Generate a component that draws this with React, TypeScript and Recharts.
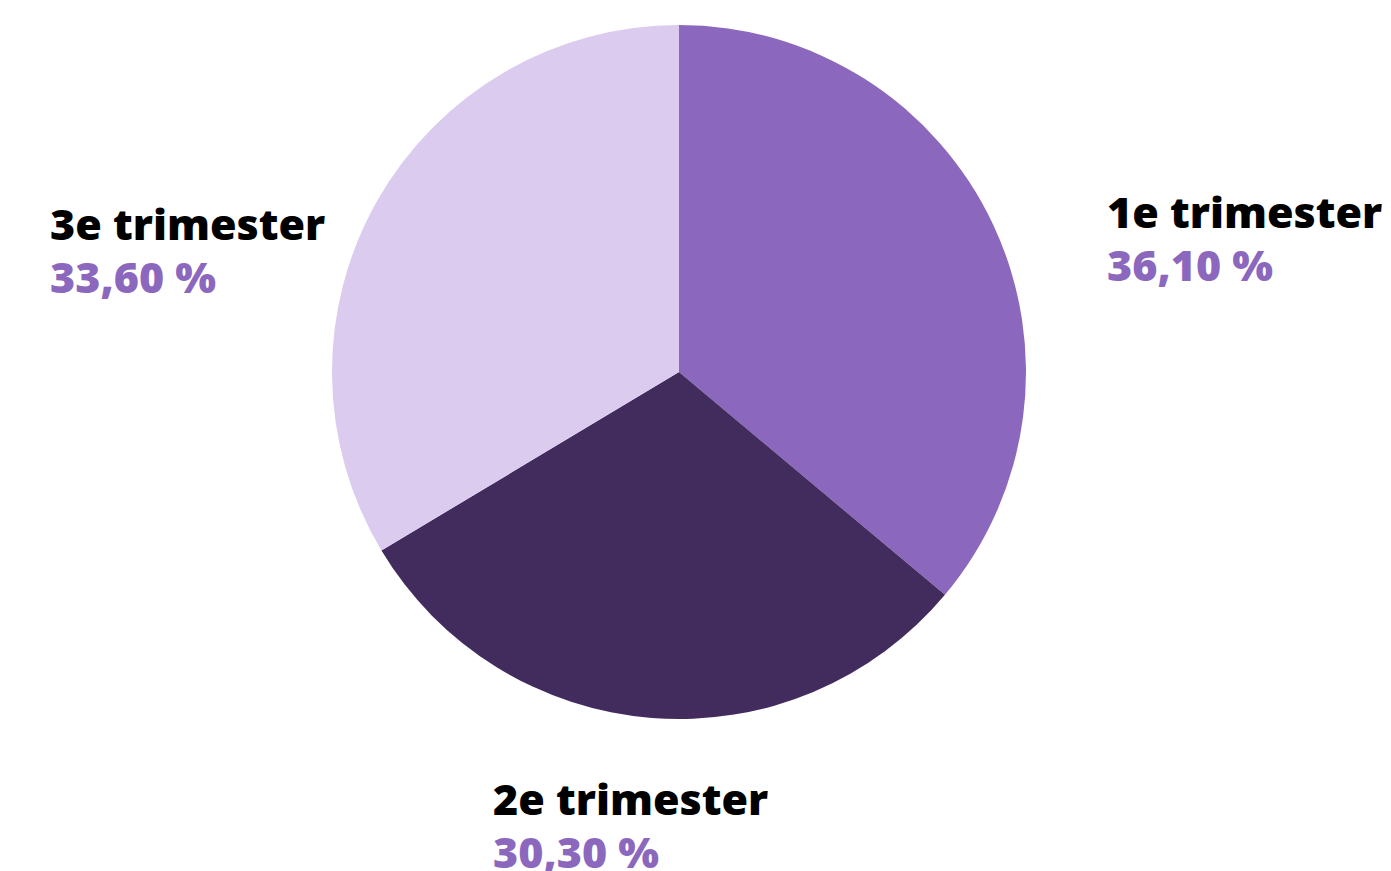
import { PieChart, Pie, Cell } from "recharts";

const categories = ["1e trimester", "2e trimester", "3e trimester"];
const shares = [36.1, 30.3, 33.6];
const colors = ["#8b68be", "#412c5d", "#dbcbee"];

const data = categories.map((name, i) => ({ name, value: shares[i] }));

// label placement relative to pie centre (left edge, first baseline)
const labelOffset: Record<string, [number, number]> = {
    "1e trimester": [428, -144],
    "2e trimester": [-186, 443],
    "3e trimester": [-629, -132],
};

const fmt = (v: number) => v.toFixed(2).replace(".", ",") + " %";

const textStyle = { fontSize: 43, fontWeight: 800, fontFamily: "'Open Sans'" };

// eslint-disable-next-line @typescript-eslint/no-explicit-any
const renderLabel = (props: any) => {
    const { cx, cy, name, value } = props;
    const [dx, dy] = labelOffset[name];
    return (
        <g>
            <text x={cx + dx} y={cy + dy} fill="#000" textAnchor="start" style={textStyle}>
                {name}
            </text>
            <text x={cx + dx} y={cy + dy + 53} fill="#8b68be" textAnchor="start" style={textStyle}>
                {fmt(value)}
            </text>
        </g>
    );
};

export default function App() {
    return (
        <div style={{ position: "absolute", left: 0, top: 0, background: "#fff" }}>
            <PieChart width={1391} height={871} margin={{ top: 0, right: 0, bottom: 0, left: 0 }}>
                <Pie data={data}
                     dataKey="value"
                     nameKey="name"
                     cx={679}
                     cy={372}
                     outerRadius={347}
                     startAngle={90}
                     endAngle={-270}
                     stroke="none"
                     labelLine={false}
                     label={renderLabel}
                     isAnimationActive={false}>
                    {data.map((d, i) => <Cell key={d.name} fill={colors[i]} />)}
                </Pie>
            </PieChart>
        </div>
    );
}
